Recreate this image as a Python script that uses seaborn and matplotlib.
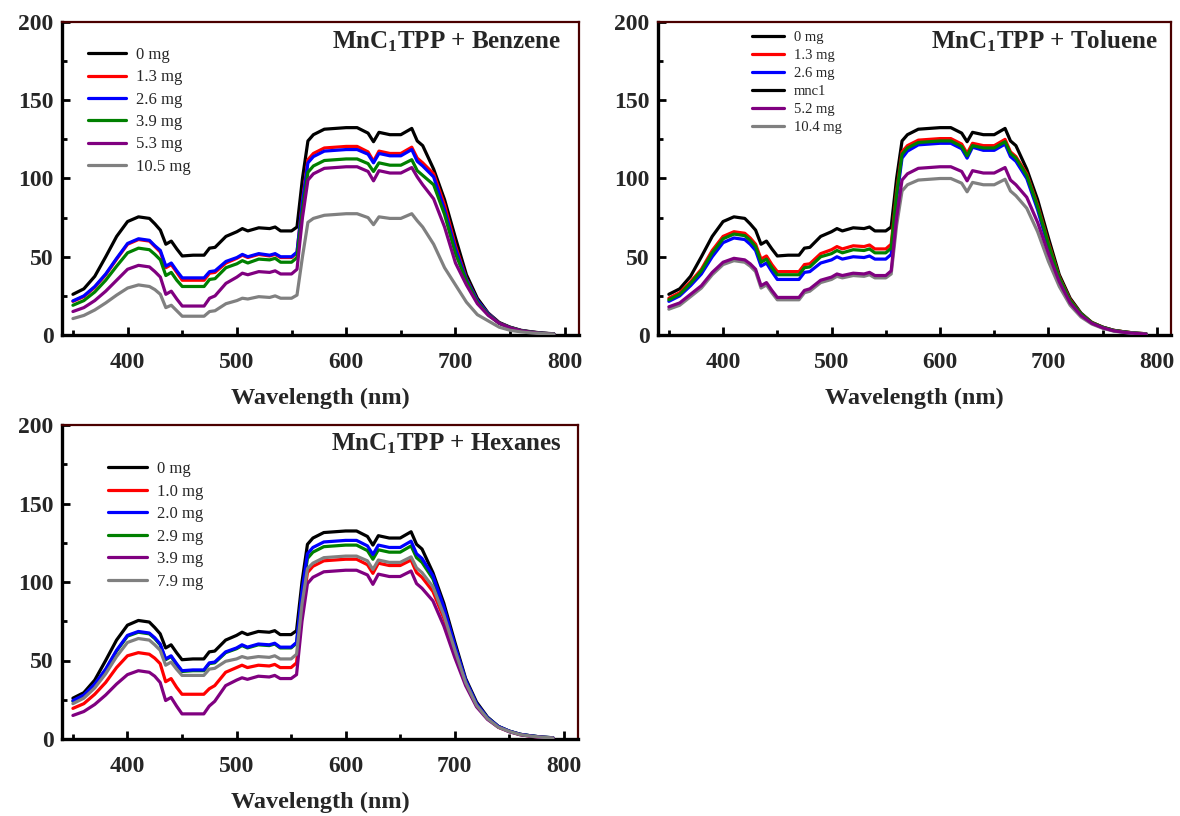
import matplotlib
matplotlib.use("Agg")
import matplotlib.pyplot as plt
from matplotlib.lines import Line2D
from matplotlib.ticker import MultipleLocator
from matplotlib.font_manager import FontProperties
import pandas as pd
import seaborn as sns

# Wavelength grid (nm)
wavelength = [350, 360, 370, 380, 390, 400, 410, 420, 425, 430, 435, 440, 445, 450,
              460, 470, 475, 480, 490, 500, 505, 510, 520, 530, 535, 540, 550, 555,
              560, 565, 570, 580, 590, 600, 610, 620, 625, 630, 640, 650, 660, 665,
              670, 680, 690, 700, 710, 720, 730, 740, 750, 760, 770, 780, 790]

# Bare MnC1TPP film (0 mg), shared by all three panels
mnc1_0mg = [26, 29.5, 37.5, 50, 63, 72.5, 75.5, 74.5, 71, 67,
            58, 60, 55, 50.5, 51, 51, 55.5, 56, 63, 66,
            68, 66.5, 68.5, 68, 69, 66.5, 66.5, 69, 100, 124,
            128, 131.5, 132, 132.5, 132.5, 129, 123.5, 129.5, 128, 128,
            132, 124, 121, 106, 86.5, 62, 38.5, 23.5, 14, 8,
            5, 3, 2, 1.2, 0.8]

# Benzene exposures
benzene_1p3 = [21.5, 24.5, 30.5, 38.5, 48.5, 58, 61, 60, 56.5, 53,
               43, 45, 40, 35, 35, 35, 39.5, 40, 46, 49,
               51, 49.5, 51.5, 50.5, 51.5, 49.5, 49.5, 52.5, 86, 112,
               116, 119.5, 120, 120.5, 120.5, 117, 111, 117.5, 116, 116,
               120, 113, 110, 103, 83, 57, 36, 22, 13.5, 7.5,
               4.8, 2.8, 1.8, 1.1, 0.7]
benzene_2p6 = [21.8, 25, 31, 39, 49, 58.5, 61.5, 60.5, 57, 54,
               44, 46, 41, 36.5, 36.5, 36.5, 40.5, 41, 47, 49.5,
               51.5, 50, 52, 51, 52, 50, 50, 53, 85, 110,
               114, 117.5, 118, 118.5, 118.5, 115.5, 110, 116, 114.5, 114.5,
               118.5, 111, 108, 101, 80, 55, 35.5, 22, 13.5, 7.5,
               4.8, 2.8, 1.8, 1.1, 0.7]
benzene_3p9 = [19, 22, 27.5, 35, 44, 52.5, 55.5, 54.5, 51.5, 48,
               38, 40, 35, 31, 31, 31, 35.5, 36, 43, 45.5,
               47.5, 46, 48.5, 48, 49, 46.5, 46.5, 49.5, 80, 104,
               108, 111.5, 112, 112.5, 112.5, 109.5, 104.5, 110, 108.5, 108.5,
               112, 105, 102, 96, 77, 52, 34.5, 21, 13, 7.5,
               4.8, 2.8, 1.8, 1.1, 0.7]
benzene_5p3 = [15, 17.5, 22, 28, 35, 42, 44.5, 43.5, 40.5, 37,
               26, 28, 23, 18.5, 18.5, 18.5, 23.5, 25, 33, 37,
               39.5, 38.5, 40.5, 40, 41, 39, 39, 42, 75, 99,
               103, 106.5, 107, 107.5, 107.5, 104.5, 98.5, 105, 103.5, 103.5,
               107, 101, 96, 87, 69, 46, 32, 20, 12.5, 7.5,
               4.6, 2.7, 1.7, 1.0, 0.6]
benzene_10p5 = [10.5, 12.5, 16, 20.5, 25.5, 30, 32, 31, 29, 26,
                17.5, 19, 15.5, 12, 12, 12, 15, 15.5, 20, 22,
                23.5, 23, 24.5, 24, 25, 23.5, 23.5, 25.5, 50, 72,
                74.5, 76.5, 77, 77.5, 77.5, 75, 70.5, 75.5, 74.5, 74.5,
                77.5, 73, 69, 58, 43, 32, 21, 13, 9, 5,
                3, 2, 1.3, 0.9, 0.6]

# Toluene exposures
toluene_1p3 = [23.5, 27, 34, 42, 54, 63, 66, 65, 62, 58,
               48.5, 50.5, 45, 40.5, 40.5, 40.5, 45, 45.5, 52, 54.5,
               56.5, 55, 57, 56.5, 57.5, 55, 55, 58, 92, 117,
               121, 124.5, 125, 125.5, 125.5, 122, 116, 122.5, 121, 121,
               125, 117, 114, 103, 83, 59, 37, 22.5, 13.5, 8,
               5, 3, 2, 1.2, 0.8]
toluene_2p6 = [21.5, 25, 31.5, 39, 50, 59, 62, 61, 58, 54,
               44, 46, 40.5, 35.5, 35.5, 35.5, 40, 40.5, 46, 48,
               50, 48.5, 50, 49.5, 50.5, 48.5, 48.5, 51.5, 87, 113,
               117.5, 121.5, 122, 122.5, 122.5, 119, 113, 120, 118, 118,
               122, 114, 111, 100, 80, 56, 35.5, 21.5, 13, 7.5,
               4.8, 2.8, 1.8, 1.1, 0.7]
toluene_mnc1 = [22.5, 26, 33, 41, 52.5, 61.5, 64.5, 63.5, 60.5, 56.5,
                46.5, 48.5, 43, 38.5, 38.5, 38.5, 43, 43.5, 50, 52,
                54, 52.5, 54.5, 54, 55, 52.5, 52.5, 55.5, 90, 115.5,
                119.5, 123, 123.5, 124, 124, 120.5, 114.5, 121, 119.5, 119.5,
                123.5, 116, 113, 102, 82, 58, 36.5, 22, 13.5, 8,
                5, 3, 2, 1.2, 0.8]
toluene_5p2 = [18, 20.5, 26, 31.5, 40, 46.5, 49, 48, 45.5, 42,
               31.5, 33.5, 28.5, 24, 24, 24, 28.5, 29.5, 35, 37,
               39, 38, 39.5, 39, 40, 38, 38, 41, 75, 99,
               103, 106.5, 107, 107.5, 107.5, 104.5, 98.5, 105, 103.5, 103.5,
               107, 99, 96, 88, 72, 52, 34, 20.5, 12.5, 7.5,
               4.6, 2.7, 1.7, 1.0, 0.6]
toluene_10p4 = [16.5, 19, 24.5, 30, 38.5, 45, 47.5, 46.5, 44, 40.5,
                30, 32, 27, 22.5, 22.5, 22.5, 27, 28, 33.5, 35.5,
                37.5, 36.5, 38, 37.5, 38.5, 36.5, 36.5, 39, 70, 92,
                96, 99, 99.5, 100, 100, 97, 91.5, 97.5, 96, 96,
                99.5, 92, 89, 81, 66, 47, 31, 19, 11.5, 7,
                4.3, 2.5, 1.6, 1.0, 0.6]

# Hexanes exposures
hexanes_1p0 = [19.5, 22.5, 28.5, 36, 45.5, 53, 55, 54, 51.5, 48,
               36.5, 38.5, 33, 28.5, 28.5, 28.5, 32, 34, 42.5, 45.5,
               47, 45.5, 47, 46.5, 47.5, 45.5, 45.5, 48.5, 82, 106,
               110, 113.5, 114, 114.5, 114.5, 111, 105.5, 112, 110.5, 110.5,
               114, 106, 103, 94, 77, 56, 35.5, 21.5, 13, 7.5,
               4.8, 2.8, 1.8, 1.1, 0.7]
hexanes_2p0 = [24.5, 28, 35, 44.5, 56.5, 66, 68.5, 67.5, 64.5, 60.5,
               51, 53, 48, 43.5, 44, 44, 48.5, 49, 55.5, 58,
               60, 58.5, 60.5, 60, 61, 58.5, 58.5, 61.5, 94, 118,
               122, 125.5, 126, 126.5, 126.5, 123, 117.5, 123.5, 122, 122,
               126, 118, 115, 104, 84, 60, 37.5, 22.5, 13.5, 8,
               5, 3, 2, 1.2, 0.8]
hexanes_2p9 = [24, 27.5, 34.5, 44, 56, 65.5, 68, 67, 64, 60,
               50.5, 52.5, 47.5, 43, 43.5, 43.5, 48, 48.5, 55, 57.5,
               59.5, 58, 60, 59.5, 60.5, 58, 58, 61, 92, 115,
               119, 122.5, 123, 123.5, 123.5, 120, 114.5, 120.5, 119, 119,
               123, 115.5, 112.5, 102, 83, 59, 37, 22, 13.5, 8,
               5, 3, 2, 1.2, 0.8]
hexanes_3p9 = [15, 17.5, 22, 28, 35, 41, 43.5, 42.5, 40, 36,
               24.5, 26.5, 21, 16, 16, 16, 21, 24, 34, 37.5,
               39, 38, 40, 39.5, 40.5, 38.5, 38.5, 41, 75, 99,
               103, 106.5, 107, 107.5, 107.5, 104.5, 98.5, 105, 103.5, 103.5,
               107, 99, 96, 88, 72, 52, 34, 20.5, 12.5, 7.5,
               4.6, 2.7, 1.7, 1.0, 0.6]
hexanes_7p9 = [22.5, 26, 32.5, 41.5, 52.5, 61.5, 64, 63, 60, 56.5,
               47, 49, 44.5, 40.5, 40.5, 40.5, 44.5, 45, 49.5, 51,
               52.5, 51.5, 52.5, 52, 53, 51, 51, 54, 86, 108.5,
               112, 115.5, 116, 116.5, 116.5, 113.5, 108, 114, 112.5, 112.5,
               116, 109, 106, 97, 79, 57, 36, 21.5, 13, 7.5,
               4.8, 2.8, 1.8, 1.1, 0.7]

BLACK, RED, BLUE, GREEN, PURPLE, GRAY = "#000000", "#ff0000", "#0000ff", "#008000", "#800080", "#808080"

sns.set_theme(style="ticks")
plt.rcParams["font.family"] = ["Liberation Serif", "DejaVu Serif"]
plt.rcParams["mathtext.fontset"] = "custom"
plt.rcParams["mathtext.rm"] = "Liberation Serif:bold"
plt.rcParams["mathtext.bf"] = "Liberation Serif:bold"
plt.rcParams["mathtext.it"] = "Liberation Serif:bold:italic"

W, H = 1180, 816
fig = plt.figure(figsize=(W / 100, H / 100), dpi=100)
fig.patch.set_facecolor("white")


def rect(x0, y0, x1, y1):
    return [x0 / W, 1 - y1 / H, (x1 - x0) / W, (y1 - y0) / H]


# (label, values, line colour, legend colour, zorder)
panels = [
    dict(rect=rect(62, 22, 579, 335), solvent="Benzene",
         series=[("0 mg", mnc1_0mg, BLACK, BLACK, 3),
                 ("1.3 mg", benzene_1p3, RED, RED, 4),
                 ("2.6 mg", benzene_2p6, BLUE, BLUE, 5),
                 ("3.9 mg", benzene_3p9, GREEN, GREEN, 6),
                 ("5.3 mg", benzene_5p3, PURPLE, PURPLE, 7),
                 ("10.5 mg", benzene_10p5, GRAY, GRAY, 8)],
         leg=dict(anchor=(0.050, 0.920), size=12, hl=2.3, htp=0.6, ls=0.38),
         title_xy=(0.965, 0.938)),
    dict(rect=rect(658, 22, 1171, 335), solvent="Toluene",
         series=[("0 mg", mnc1_0mg, BLACK, BLACK, 3),
                 ("1.3 mg", toluene_1p3, RED, RED, 4),
                 ("2.6 mg", toluene_2p6, BLUE, BLUE, 5),
                 ("mnc1", toluene_mnc1, GREEN, BLACK, 6),
                 ("5.2 mg", toluene_5p2, PURPLE, PURPLE, 8),
                 ("10.4 mg", toluene_10p4, GRAY, GRAY, 7)],
         leg=dict(anchor=(0.183, 0.972), size=10.5, hl=2.2, htp=0.68, ls=0.33),
         title_xy=(0.973, 0.938)),
    dict(rect=rect(62, 425, 578, 739), solvent="Hexanes",
         series=[("0 mg", mnc1_0mg, BLACK, BLACK, 3),
                 ("1.0 mg", hexanes_1p0, RED, RED, 4),
                 ("2.0 mg", hexanes_2p0, BLUE, BLUE, 6),
                 ("2.9 mg", hexanes_2p9, GREEN, GREEN, 5),
                 ("3.9 mg", hexanes_3p9, PURPLE, PURPLE, 7),
                 ("7.9 mg", hexanes_7p9, GRAY, GRAY, 8)],
         leg=dict(anchor=(0.089, 0.885), size=12, hl=2.35, htp=0.6, ls=0.39),
         title_xy=(0.969, 0.940)),
]

LW = 2.3
for p in panels:
    ax = fig.add_axes(p["rect"])
    handles, labels = [], []
    for label, vals, color, leg_color, z in p["series"]:
        df = pd.DataFrame({"Wavelength": wavelength, "Intensity": vals})
        sns.lineplot(data=df, x="Wavelength", y="Intensity", ax=ax, color=color,
                     linewidth=LW, sort=False, legend=False, zorder=z)
        handles.append(Line2D([0], [0], color=leg_color, linewidth=LW))
        labels.append(label)

    ax.set_xlim(340, 813)
    ax.set_ylim(0, 200)
    ax.xaxis.set_major_locator(MultipleLocator(100))
    ax.xaxis.set_minor_locator(MultipleLocator(50))
    ax.yaxis.set_major_locator(MultipleLocator(50))
    ax.yaxis.set_minor_locator(MultipleLocator(25))
    ax.tick_params(which="both", direction="in", top=False, right=False,
                   width=2, color="black")
    ax.tick_params(which="major", length=6, labelsize=17)
    ax.tick_params(axis="x", which="major", pad=12)
    ax.tick_params(axis="y", which="major", pad=6)
    ax.tick_params(which="minor", length=3.5)
    for t in ax.get_xticklabels() + ax.get_yticklabels():
        t.set_fontweight("bold")

    for side in ("left", "bottom"):
        ax.spines[side].set_color("black")
        ax.spines[side].set_linewidth(2.4)
    for side in ("top", "right"):
        ax.spines[side].set_visible(True)
        ax.spines[side].set_color("#4a0000")
        ax.spines[side].set_linewidth(1.6)

    ax.set_xlabel("Wavelength (nm)", fontsize=17.5, fontweight="bold", labelpad=11)
    ax.set_ylabel("")

    ax.text(p["title_xy"][0], p["title_xy"][1],
            r"MnC$_\mathbf{1}$TPP + " + p["solvent"],
            transform=ax.transAxes, ha="right", va="center",
            fontsize=18, fontweight="bold")

    lg = p["leg"]
    ax.legend(handles, labels, loc="upper left", bbox_to_anchor=lg["anchor"],
              frameon=False, borderpad=0, borderaxespad=0,
              handlelength=lg["hl"], handletextpad=lg["htp"],
              labelspacing=lg["ls"],
              prop=FontProperties(family="Liberation Serif", size=lg["size"]))

fig.savefig("out.png", dpi=100, facecolor="white")
